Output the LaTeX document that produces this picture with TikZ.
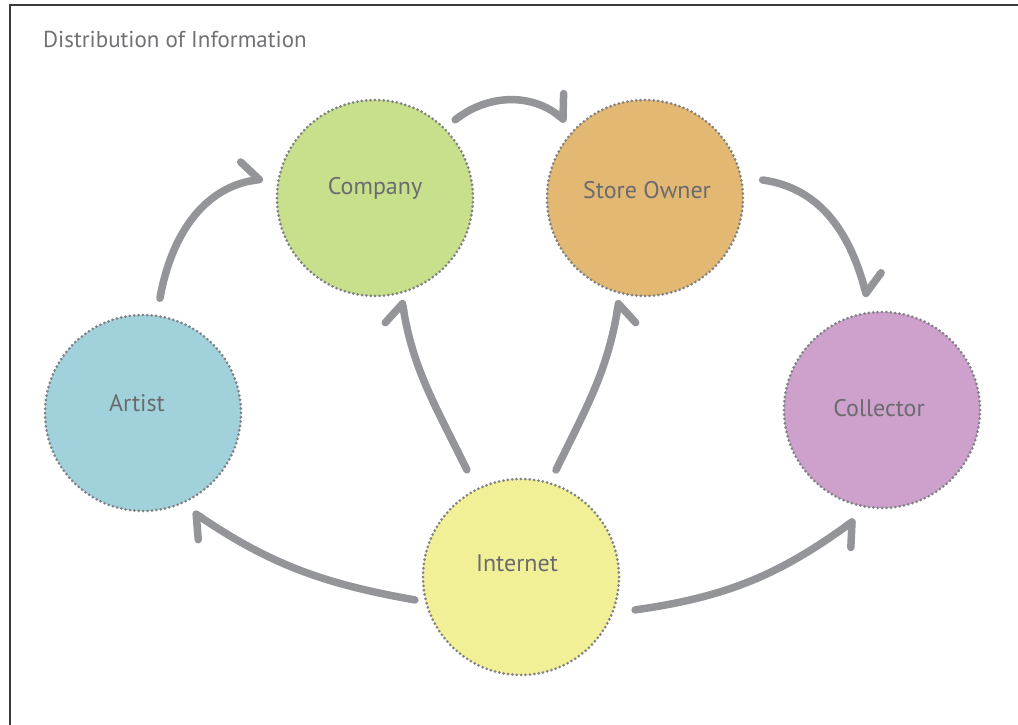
\documentclass[tikz,border=0pt]{standalone}
\usepackage{fontspec}
\setmainfont{PT Sans}
\usetikzlibrary{arrows.meta,calc}
\definecolor{arrowgray}{HTML}{939598}
\definecolor{dotgray}{HTML}{7F8185}
\definecolor{labelgray}{HTML}{6A6B6E}
\definecolor{titlegray}{HTML}{707174}
\definecolor{framegray}{HTML}{3A3A3A}
\definecolor{artblue}{HTML}{A1D2DC}
\definecolor{compgreen}{HTML}{C8DF8C}
\definecolor{storeorange}{HTML}{E3B873}
\definecolor{collpurple}{HTML}{CDA1CC}
\definecolor{netyellow}{HTML}{F2F096}
\begin{document}
\begin{tikzpicture}[x=1pt,y=1pt,
  bubble/.style={circle, minimum size=196pt, inner sep=0pt, draw=dotgray, line width=3pt, dash pattern=on 0pt off 4.4pt, line cap=round},
  lbl/.style={text=labelgray, font=\fontsize{24}{28}\selectfont},
  ttl/.style={text=titlegray, font=\fontsize{23}{27}\selectfont, inner sep=0pt},
  flowl/.style={draw=arrowgray, line width=7.5pt, line cap=round, -{Straight Barb[harpoon,length=16pt,width=40pt,round]}},
  flowr/.style={draw=arrowgray, line width=7.5pt, line cap=round, -{Straight Barb[harpoon,swap,length=16pt,width=40pt,round]}}]
\useasboundingbox (0,0) rectangle (1018,725);
\draw[line width=2pt, framegray] (1018,719.5) -- (10,719.5) -- (10,0);
\node[ttl, anchor=base west] (title) at (43,677) {Distribution of Information};
\node[bubble, fill=artblue, label={[lbl,xshift=-6pt,yshift=10pt]center:Artist}] (art) at (143,312) {};
\node[bubble, fill=compgreen, label={[lbl,yshift=10pt]center:Company}] (comp) at (375,527) {};
\node[bubble, fill=storeorange, label={[lbl,xshift=2pt,yshift=8pt]center:Store Owner}] (store) at (645,527) {};
\node[bubble, fill=collpurple, label={[lbl,xshift=-3pt,yshift=2pt]center:Collector}] (coll) at (882,315) {};
\node[bubble, fill=netyellow, label={[lbl,xshift=-4pt,yshift=14pt]center:Internet}] (inet) at (521,148) {};
\draw[flowl] ([shift={(81.6:116)}]art.center) to[out=80,in=188] ([shift={(170.4:113.6)}]comp.center);
\draw[flowl] ([shift={(44.3:112)}]comp.center) to[out=38,in=140] ([shift={(136:110)}]store.center);
\draw[flowl] ([shift={(8.7:119)}]store.center) to[out=-8,in=105] ([shift={(97.6:114)}]coll.center);
\draw[flowl] ([shift={(192.2:108.5)}]inet.center) to[out=170,in=-34] ([shift={(-63.2:111)}]art.center);
\draw[flowr] ([shift={(-16.1:118.7)}]inet.center) to[out=8,in=216] ([shift={(-103.8:113)}]coll.center);
\draw[flowl] ([shift={(116.8:120)}]inet.center) to[out=116,in=-81] ([shift={(-75.2:105.5)}]comp.center);
\draw[flowr] ([shift={(71.9:112.6)}]inet.center) to[out=64,in=-99] ([shift={(-104.3:105.3)}]store.center);
\end{tikzpicture}
\end{document}
